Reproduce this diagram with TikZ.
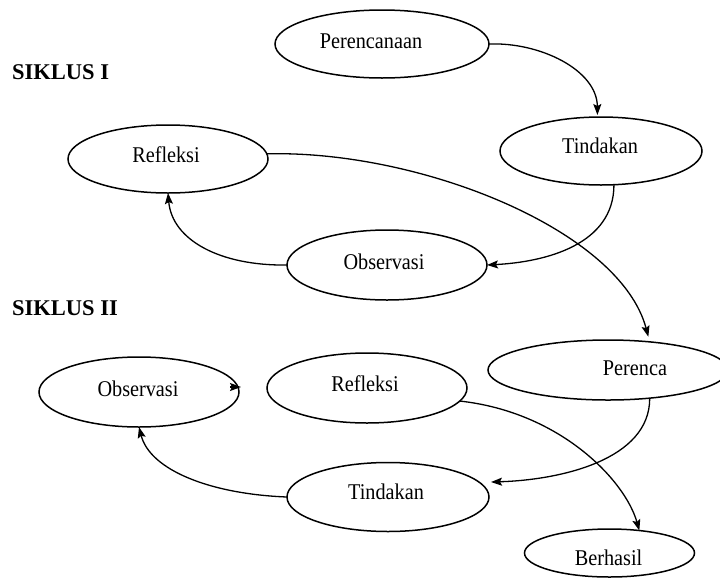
\documentclass[tikz,border=0pt]{standalone}
\usepackage{graphicx}
\usepackage{fontspec}
\setmainfont{Liberation Serif}
\usetikzlibrary{arrows.meta,calc,shapes.geometric}
\newcommand\narrowtxt[1]{\scalebox{0.9}[1]{#1}}
\begin{document}
\begin{tikzpicture}[x=1pt,y=-1pt,
  cyc/.style={ellipse, draw, line width=1.5pt, inner sep=0pt, outer sep=0pt},
  lbl/.style={font=\fontsize{22.5}{26}\selectfont, inner sep=0pt},
  ttl/.style={font=\bfseries\fontsize{22.5}{26}\selectfont, inner sep=0pt, anchor=west},
  arr/.style={line width=1.3pt, -{Stealth[length=11pt,width=8pt,inset=2pt]}}]
\useasboundingbox (0,0) rectangle (720,579);
\clip (0,0) rectangle (720,579);

% titles
\node[ttl] (s1) at (12,72) {SIKLUS I};
\node[ttl] (s2) at (12,308.5) {SIKLUS II};

% cycle I
\node[cyc, minimum width=214pt, minimum height=68pt] (per1) at (382,44) {};
\node[lbl] (per1t) at (371,41.5) {\narrowtxt{Perencanaan}};
\node[cyc, minimum width=202pt, minimum height=68pt] (tin1) at (601,151) {};
\node[lbl] (tin1t) at (600,145.5) {\narrowtxt{Tindakan}};
\node[cyc, minimum width=200pt, minimum height=68pt] (ref1) at (168,159) {};
\node[lbl] (ref1t) at (166,154.5) {\narrowtxt{Refleksi}};
\node[cyc, minimum width=200pt, minimum height=70pt] (obs1) at (387,265) {};
\node[lbl] (obs1t) at (384,262) {\narrowtxt{Observasi}};

% cycle II
\node[cyc, minimum width=200pt, minimum height=70pt] (obs2) at (139,392) {};
\node[lbl] (obs2t) at (138,388.5) {\narrowtxt{Observasi}};
\node[cyc, minimum width=200pt, minimum height=70pt] (ref2) at (367,388) {};
\node[lbl] (ref2t) at (365,383.5) {\narrowtxt{Refleksi}};
\node[cyc, minimum width=240pt, minimum height=60pt] (per2) at (608,370) {};
\node[lbl] (per2t) at (635,368.5) {\narrowtxt{Perenca}};
\node[cyc, minimum width=170pt, minimum height=48pt] (ber) at (609.5,553) {};
\node[lbl] (bert) at (608.5,557.5) {\narrowtxt{Berhasil}};
\node[cyc, minimum width=202pt, minimum height=69pt] (tin2) at (388,497) {};
\node[lbl] (tin2t) at (386,492) {\narrowtxt{Tindakan}};

% connectors cycle I
\draw[arr] (per1.east) .. controls (540,42) and (597,70) .. ($(tin1.96)+(0,-2)$);
\draw[arr] (tin1.-69) .. controls (614,245) and (545,262) .. (obs1.east);
\draw[arr] (obs1.west) .. controls (220,266) and (172,240) .. (ref1.south);
\draw[arr] (ref1.3) .. controls (420,150) and (620,230) .. ($(per2.35)+(0,-5)$);

% connectors cycle II
\draw[arr] (per2.-34) .. controls (650,460) and (560,480) .. ($(tin2.east)+(2,-15)$);
\draw[arr] (tin2.west) .. controls (210,494) and (150,470) .. (obs2.south);
\draw[arr] (ref2.-8) .. controls (560,412) and (625,480) .. (ber.37);
\draw[arr] ($(obs2.east)+(-9,-5)$) -- ($(obs2.east)+(2,-5)$);
\end{tikzpicture}
\end{document}
